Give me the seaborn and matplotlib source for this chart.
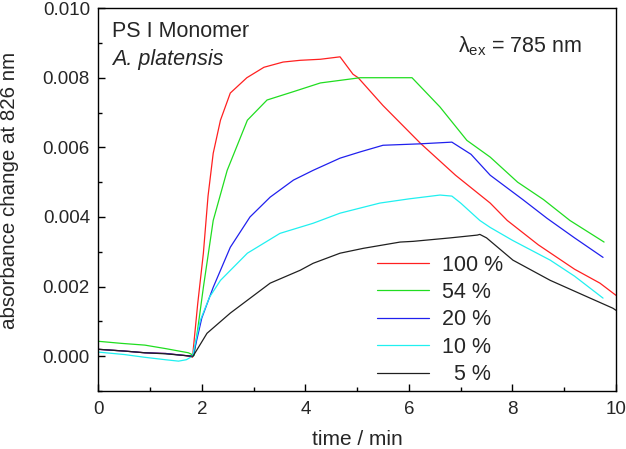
import pandas as pd
import seaborn as sns
import matplotlib
matplotlib.use("Agg")
import matplotlib.pyplot as plt
from matplotlib.ticker import MultipleLocator, FormatStrFormatter

# === data (time in min, absorbance change) ===
t_100 = [0, 0.5, 0.9, 1.3, 1.68, 1.82, 1.92, 2.03, 2.12, 2.22, 2.36, 2.55, 2.87, 3.2, 3.57,
         3.9, 4.29, 4.67, 4.92, 5.02, 5.5, 6.22, 6.9, 7.57, 7.9, 8.5, 9.2, 9.69, 10.0]
a_100 = [0.0002, 0.00015, 0.0001, 0.00008, 0.00002, -0.00003, 0.0015, 0.00296, 0.0046, 0.00583,
         0.00678, 0.00756, 0.0080, 0.0083, 0.00845, 0.0085, 0.00853, 0.0086, 0.0081, 0.0080,
         0.0072, 0.00612, 0.0052, 0.0044, 0.0039, 0.0032, 0.0025, 0.0021, 0.00175]

t_54 = [0, 0.45, 0.9, 1.3, 1.74, 1.85, 1.95, 2.03, 2.22, 2.49, 2.88, 3.26, 3.77, 4.29, 5.06,
        5.5, 6.06, 6.6, 7.12, 7.57, 8.1, 8.6, 9.11, 9.77]
a_54 = [0.00043, 0.00037, 0.00032, 0.00022, 0.0001, 0.00002, 0.0011, 0.00198, 0.0039, 0.00534,
        0.00678, 0.00736, 0.0076, 0.00785, 0.0080, 0.0080, 0.0080, 0.00716, 0.0062, 0.00572,
        0.0050, 0.0045, 0.0039, 0.00328]

t_20 = [0, 0.5, 0.9, 1.3, 1.68, 1.83, 2.0, 2.22, 2.55, 2.93, 3.32, 3.77, 4.15, 4.67, 5.06,
        5.5, 6.2, 6.83, 7.2, 7.57, 8.2, 8.67, 9.2, 9.75]
a_20 = [0.0002, 0.00015, 0.0001, 0.00008, 0.00002, 0.0, 0.0011, 0.00198, 0.00313, 0.0040,
        0.00457, 0.00506, 0.00534, 0.00569, 0.00587, 0.00606, 0.0061, 0.00615, 0.0058, 0.0052,
        0.0045, 0.00396, 0.0034, 0.00284]

t_10 = [0, 0.5, 0.9, 1.3, 1.55, 1.7, 1.82, 1.97, 2.15, 2.36, 2.88, 3.51, 4.15, 4.67, 5.44,
        6.0, 6.6, 6.83, 7.0, 7.37, 7.57, 8.0, 8.73, 9.2, 9.75]
a_10 = [0.00012, 0.00005, -0.00003, -0.0001, -0.00014, -0.0001, 0.0, 0.00103, 0.0017, 0.00218,
        0.00296, 0.00353, 0.00382, 0.00411, 0.0044, 0.00452, 0.00463, 0.0046, 0.0044, 0.0039,
        0.0037, 0.00333, 0.00276, 0.0023, 0.00167]

t_5 = [0, 0.5, 0.9, 1.3, 1.68, 1.83, 2.1, 2.55, 3.32, 3.9, 4.15, 4.67, 5.12, 5.83, 6.08,
       6.8, 7.32, 7.37, 7.5, 8.01, 8.73, 9.5, 9.94, 10.0]
a_5 = [0.0002, 0.00015, 0.0001, 0.00007, 0.00002, 0.0, 0.00066, 0.00124, 0.0021, 0.00247,
       0.00267, 0.00296, 0.0031, 0.00328, 0.0033, 0.0034, 0.00348, 0.0035, 0.0034, 0.00276,
       0.00218, 0.00167, 0.00138, 0.00132]

labels = ["100 %", "54 %", "20 %", "10 %", "  5 %"]
colors = ["#ff2020", "#20dd20", "#2020ee", "#20f0f0", "#202020"]

frames = []
for lab, t, a in zip(labels, [t_100, t_54, t_20, t_10, t_5], [a_100, a_54, a_20, a_10, a_5]):
    frames.append(pd.DataFrame({"time": t, "abs": a, "intensity": lab}))
df = pd.concat(frames, ignore_index=True)

# === style ===
sns.set_style("ticks")
plt.rcParams["font.family"] = ["Liberation Sans", "DejaVu Sans"]
plt.rcParams["mathtext.fontset"] = "custom"
plt.rcParams["mathtext.rm"] = "Liberation Sans"
plt.rcParams["mathtext.it"] = "Liberation Sans:italic"

fig, ax = plt.subplots(figsize=(6.26, 4.49), dpi=100)
fig.subplots_adjust(left=0.157, right=0.984, top=0.982, bottom=0.129)

sns.lineplot(data=df, x="time", y="abs", hue="intensity", palette=colors,
             hue_order=labels, linewidth=0.9, sort=False, estimator=None, ax=ax)

ax.set_xlim(0, 10)
ax.set_ylim(-0.001, 0.010)
ax.xaxis.set_major_locator(MultipleLocator(2))
ax.xaxis.set_minor_locator(MultipleLocator(1))
ax.yaxis.set_major_locator(MultipleLocator(0.002))
ax.yaxis.set_minor_locator(MultipleLocator(0.001))
ax.yaxis.set_major_formatter(FormatStrFormatter("%.3f"))
ax.tick_params(which="both", direction="in", width=1, labelsize=13.5, color="black")
ax.tick_params(which="major", length=5)
ax.tick_params(which="minor", length=3)
ax.tick_params(axis="x", pad=7)
ax.tick_params(axis="y", pad=6)
for s in ax.spines.values():
    s.set_visible(True)
    s.set_linewidth(1.0)
    s.set_color("black")

ax.set_xlabel("time / min", fontsize=15, labelpad=9)
ax.set_ylabel("absorbance change at 826 nm", fontsize=14.8)
ax.yaxis.set_label_coords(-0.154, 0.525)

ax.text(0.027, 0.965, "PS I Monomer", transform=ax.transAxes, fontsize=15.5, va="top")
ax.text(0.027, 0.893, "A. platensis", transform=ax.transAxes, fontsize=15.5, va="top",
        style="italic")
ax.text(0.695, 0.9, r"λ$_{\mathrm{ex}}$ = 785 nm", transform=ax.transAxes, fontsize=15.5,
        va="center")

ax.legend(loc="lower left", bbox_to_anchor=(0.505, -0.03), frameon=False, fontsize=15.5,
          handlelength=2.4, handletextpad=0.6, labelspacing=0.3, borderpad=0.3)

plt.savefig("out.png", dpi=100)
